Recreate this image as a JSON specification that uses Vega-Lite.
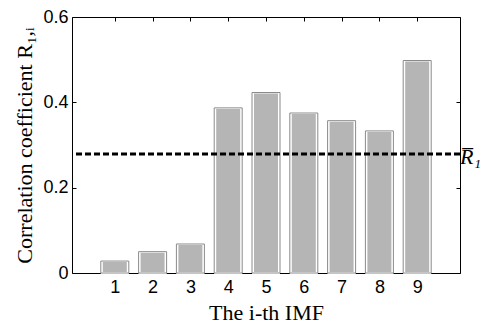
{
  "$schema": "https://vega.github.io/schema/vega-lite/v6.json",
  "autosize": "none",
  "width": 388,
  "height": 256,
  "padding": {"left": 72, "top": 17, "right": 26, "bottom": 58},
  "background": "white",
  "config": {
    "view": {"stroke": "black", "strokeWidth": 1},
    "axis": {"labelFont": "Liberation Sans", "labelFontSize": 18, "labelColor": "black", "domain": false, "grid": false, "tickColor": "black", "tickSize": -4, "titleFont": "Liberation Serif", "titleFontWeight": "normal", "titleColor": "black"}
  },
  "data": {"values": [
    {"imf": 1, "r": 0.028},
    {"imf": 2, "r": 0.050},
    {"imf": 3, "r": 0.068},
    {"imf": 4, "r": 0.387},
    {"imf": 5, "r": 0.423},
    {"imf": 6, "r": 0.375},
    {"imf": 7, "r": 0.357},
    {"imf": 8, "r": 0.333},
    {"imf": 9, "r": 0.498}
  ]},
  "layer": [
    {
      "mark": {"type": "bar", "width": 26, "fill": "#b5b5b5", "stroke": "white", "strokeWidth": 2},
      "encoding": {
        "x": {"field": "imf", "type": "quantitative", "scale": {"domain": [0, 10], "nice": false},
          "axis": {"orient": "bottom", "values": [1,2,3,4,5,6,7,8,9], "labelPadding": 9, "title": "The i-th IMF", "titleFontSize": 22, "titlePadding": 6}},
        "y": {"field": "r", "type": "quantitative", "scale": {"domain": [0, 0.6], "nice": false},
          "axis": {"orient": "left", "values": [0, 0.2, 0.4, 0.6], "labelExpr": "datum.value == 0 ? '0' : format(datum.value, '.1f')", "labelPadding": 8, "title": "Correlation coefficient R₁,ᵢ", "titleFontSize": 22, "titlePadding": 6}}
      }
    },
    {
      "mark": {"type": "bar", "width": 28, "fill": null, "fillOpacity": 0, "stroke": "#8a8a8a", "strokeWidth": 1},
      "encoding": {
        "x": {"field": "imf", "type": "quantitative", "axis": {"orient": "top", "values": [1,2,3,4,5,6,7,8,9], "labels": false, "title": null}},
        "y": {"field": "r", "type": "quantitative", "axis": {"orient": "right", "values": [0, 0.2, 0.4, 0.6], "labels": false, "title": null}}
      }
    },
    {
      "data": {"values": [{"mean": 0.279}]},
      "mark": {"type": "rule", "stroke": "black", "strokeWidth": 3, "strokeDash": [6, 3]},
      "encoding": {"y": {"field": "mean", "type": "quantitative", "axis": null}}
    },
    {
      "data": {"values": [{"mean": 0.279, "label": "R̅₁", "pos": 10}]},
      "mark": {"type": "text", "align": "left", "baseline": "middle", "dx": 5, "dy": 3, "font": "Liberation Serif", "fontStyle": "italic", "fontSize": 22, "color": "black"},
      "encoding": {
        "x": {"field": "pos", "type": "quantitative", "axis": null},
        "y": {"field": "mean", "type": "quantitative", "axis": null},
        "text": {"field": "label"}
      }
    }
  ],
  "resolve": {"axis": {"x": "independent", "y": "independent"}}
}
